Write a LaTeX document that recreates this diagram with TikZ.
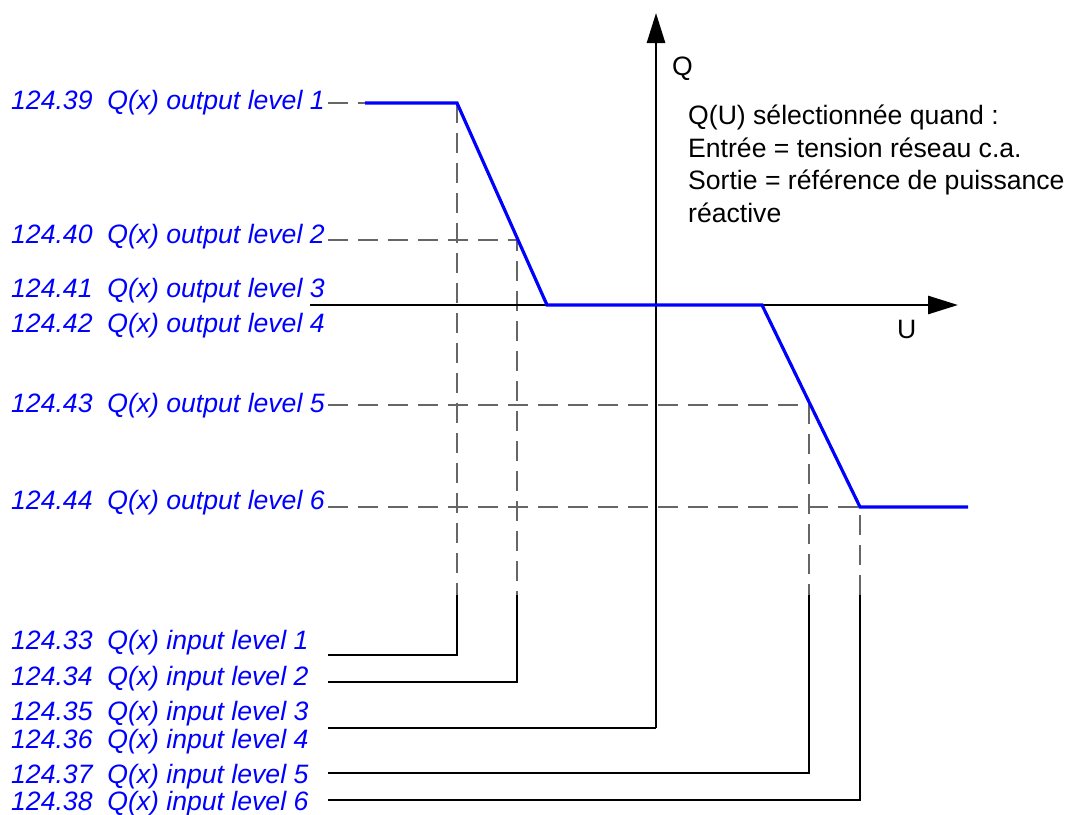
\documentclass[tikz,border=0pt]{standalone}
\usepackage{fontspec}
\setmainfont{Liberation Sans}
\usetikzlibrary{arrows.meta}
\begin{document}
\begin{tikzpicture}[x=1pt,y=-1pt,
  lbl/.style={text=blue, font=\fontsize{26.6}{30}\selectfont\itshape, anchor=base west, inner sep=0pt},
  txt/.style={font=\fontsize{26.6}{32.5}\selectfont, inner sep=0pt},
  guide/.style={draw=black!60, line width=2pt, dash pattern=on 20pt off 10pt},
  wire/.style={draw=black, line width=2.7pt},
  axis/.style={draw=black, line width=2.7pt, -{Triangle[length=30pt,width=18pt]}},
  curve/.style={draw=blue, line width=3.2pt, line join=miter}]
\useasboundingbox (0,0) rectangle (1067,814);
% key points
\coordinate (L) at (328,0);
\coordinate (p1) at (365,103);
\coordinate (k1) at (457,103);
\coordinate (m2) at (517,240);
\coordinate (k2) at (547,305);
\coordinate (k3) at (762,305);
\coordinate (m5) at (809,405);
\coordinate (k4) at (860,507);
\coordinate (p6) at (968,507);
\coordinate (xs) at (310,305);
\coordinate (xe) at (958,305);
\coordinate (ybot) at (656,728);
\coordinate (ytop) at (656,13);
\coordinate (d1) at (457,595);
\coordinate (d2) at (517,595);
\coordinate (d5) at (809,595);
\coordinate (d6) at (860,595);
\coordinate (c1) at (457,655);
\coordinate (c2) at (517,682);
\coordinate (c5) at (809,773);
\coordinate (c6) at (860,800);
% output labels
\node[lbl] (o1) at (11,109) {124.39\ \ Q(x) output level 1};
\node[lbl] (o2) at (11,243) {124.40\ \ Q(x) output level 2};
\node[lbl] (o3) at (11,297) {124.41\ \ Q(x) output level 3};
\node[lbl] (o4) at (11,332) {124.42\ \ Q(x) output level 4};
\node[lbl] (o5) at (11,412) {124.43\ \ Q(x) output level 5};
\node[lbl] (o6) at (11,509) {124.44\ \ Q(x) output level 6};
% input labels
\node[lbl] (i1) at (11,649) {124.33\ \ Q(x) input level 1};
\node[lbl] (i2) at (11,685) {124.34\ \ Q(x) input level 2};
\node[lbl] (i3) at (11,720) {124.35\ \ Q(x) input level 3};
\node[lbl] (i4) at (11,748) {124.36\ \ Q(x) input level 4};
\node[lbl] (i5) at (11,783) {124.37\ \ Q(x) input level 5};
\node[lbl] (i6) at (11,810) {124.38\ \ Q(x) input level 6};
% axis labels and note
\node[txt, anchor=base west] (Q) at (672,75) {Q};
\node[txt, anchor=base west] (U) at (897,338) {U};
\node[txt, anchor=north west, align=left] (note) at (688,105)
  {Q(U) sélectionnée quand :\\Entrée = tension réseau c.a.\\Sortie = référence de puissance\\réactive};
% dashed guides
\draw[guide] (L |- p1) -- (p1);
\draw[guide] (k1) -- (d1);
\draw[guide] (L |- m2) -- (m2) -- (d2);
\draw[guide] (L |- m5) -- (m5) -- (d5);
\draw[guide] (L |- k4) -- (k4) -- (d6);
% solid wires to input labels
\draw[wire] (L |- c1) -- (c1) -- (d1);
\draw[wire] (L |- c2) -- (c2) -- (d2);
\draw[wire] (L |- ybot) -- (ybot);
\draw[wire] (L |- c5) -- (c5) -- (d5);
\draw[wire] (L |- c6) -- (c6) -- (d6);
% axes
\draw[axis] (xs) -- (xe);
\draw[axis] (ybot) -- (ytop);
% characteristic
\draw[curve] (p1) -- (k1) -- (k2) -- (k3) -- (k4) -- (p6);
\end{tikzpicture}
\end{document}
